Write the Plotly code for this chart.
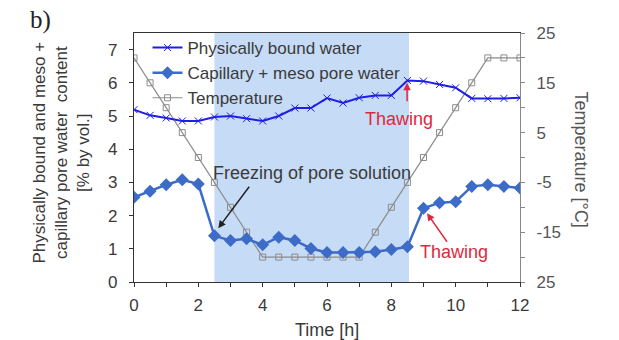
import plotly.graph_objects as go

time_h = [0, 0.5, 1, 1.5, 2, 2.5, 3, 3.5, 4, 4.5, 5, 5.5, 6, 6.5, 7, 7.5, 8, 8.5, 9, 9.5, 10, 10.5, 11, 11.5, 12]
phys_bound = [5.19, 5.02, 4.94, 4.85, 4.85, 4.97, 5.00, 4.92, 4.85, 5.00, 5.24, 5.24, 5.54, 5.39, 5.55, 5.62, 5.62, 6.07, 6.05, 5.95, 5.85, 5.53, 5.52, 5.53, 5.55]
capillary = [2.55, 2.73, 2.93, 3.08, 2.95, 1.39, 1.25, 1.30, 1.12, 1.35, 1.25, 1.01, 0.89, 0.89, 0.89, 0.91, 0.98, 1.06, 2.22, 2.39, 2.42, 2.88, 2.93, 2.88, 2.83]
temperature = [20, 15, 10, 5, 0, -5, -10, -15, -20, -20, -20, -20, -20, -20, -20, -15, -10, -5, 0, 5, 10, 15, 20, 20, 20]

freeze_start, freeze_end = 2.5, 8.55

x_ticks = list(range(0, 13))
x_ticktext = [str(v) if v % 2 == 0 else "" for v in x_ticks]
left_ticks = [0, 1, 2, 3, 4, 5, 6, 7]
right_ticks = [-25, -20, -15, -10, -5, 0, 5, 10, 15, 20, 25]
right_ticktext = ["25", "", "-15", "", "-5", "", "5", "", "15", "", "25"]

FONT = "Liberation Sans, Arial, sans-serif"
TXT = "#3a3a3a"
RED = "rgb(222,40,62)"

fig = go.Figure()
fig.add_trace(go.Scatter(x=time_h, y=phys_bound, name="Physically bound water", yaxis="y2",
                         mode="lines+markers",
                         line=dict(color="rgb(30,30,230)", width=2),
                         marker=dict(symbol="x-thin-open", size=7, line=dict(color="rgb(30,30,230)", width=1))))
fig.add_trace(go.Scatter(x=time_h, y=capillary, name="Capillary + meso pore water", yaxis="y2",
                         mode="lines+markers",
                         line=dict(color="rgb(60,108,200)", width=2.5),
                         marker=dict(symbol="diamond", size=10, color="rgb(60,108,200)")))
fig.add_trace(go.Scatter(x=time_h, y=temperature, name="Temperature", yaxis="y",
                         mode="lines+markers",
                         line=dict(color="rgb(140,140,140)", width=1.2),
                         marker=dict(symbol="square-open", size=6, color="rgb(140,140,140)",
                                     line=dict(width=1))))

fig.add_shape(type="rect", xref="x", yref="paper", x0=freeze_start, x1=freeze_end, y0=0, y1=1,
              fillcolor="rgb(198,219,245)", line=dict(width=0), layer="below")

annos = []
annos.append(dict(x=5.54, y=3.27, xref="x", yref="y2", text="Freezing of pore solution",
                  showarrow=False, font=dict(size=18, color=TXT, family=FONT)))
annos.append(dict(x=2.62, y=1.62, xref="x", yref="y2", text="", showarrow=True,
                  ax=32, ay=-43, arrowhead=2, arrowsize=1, arrowwidth=1.5, arrowcolor="#222"))
annos.append(dict(x=8.25, y=4.9, xref="x", yref="y2", text="Thawing",
                  showarrow=False, font=dict(size=18, color=RED, family=FONT)))
annos.append(dict(x=8.49, y=6.0, xref="x", yref="y2", text="", showarrow=True,
                  ax=0, ay=20, arrowhead=2, arrowsize=1, arrowwidth=1.5, arrowcolor=RED))
annos.append(dict(x=9.95, y=0.91, xref="x", yref="y2", text="Thawing",
                  showarrow=False, font=dict(size=18, color=RED, family=FONT)))
annos.append(dict(x=9.11, y=2.07, xref="x", yref="y2", text="", showarrow=True,
                  ax=21, ay=30, arrowhead=2, arrowsize=1, arrowwidth=1.5, arrowcolor=RED))
annos.append(dict(xref="paper", yref="paper", x=0, y=1, xshift=-94, yshift=13,
                  text="b)", showarrow=False, xanchor="center", yanchor="middle",
                  font=dict(size=25, color="#222", family="Liberation Serif, Times New Roman, serif")))
annos.append(dict(xref="paper", yref="paper", x=0, y=0.5, xshift=-73, yshift=5,
                  text="Physically bound and meso +<br>capillary pore water  content<br>[% by vol.]",
                  textangle=-90, showarrow=False, xanchor="center", yanchor="middle",
                  font=dict(size=17, color=TXT, family=FONT)))
annos.append(dict(xref="paper", yref="paper", x=1, y=0.5, xshift=61, yshift=-2,
                  text="Temperature [°C]", textangle=90, showarrow=False,
                  xanchor="center", yanchor="middle",
                  font=dict(size=18, color="#555", family=FONT)))
annos.append(dict(xref="paper", yref="paper", x=0.5, y=0, yshift=-48,
                  text="Time [h]", showarrow=False, xanchor="center", yanchor="middle",
                  font=dict(size=18, color=TXT, family=FONT)))

fig.update_layout(
    width=619, height=340,
    margin=dict(l=133.5, r=99, t=33, b=58),
    paper_bgcolor="white", plot_bgcolor="white",
    font=dict(family=FONT, size=17, color=TXT),
    showlegend=True,
    legend=dict(x=0.035, y=1.012, xanchor="left", yanchor="top", bgcolor="rgba(0,0,0,0)",
                font=dict(size=17, color=TXT, family=FONT), tracegroupgap=0),
    xaxis=dict(range=[0, 12], tickmode="array", tickvals=x_ticks, ticktext=x_ticktext,
               showgrid=False, zeroline=False, showline=True, linecolor="#333", linewidth=1.2,
               mirror=True, ticks="outside", ticklen=4, tickcolor="#333",
               tickfont=dict(size=17, color=TXT), ticklabelstandoff=3),
    yaxis=dict(range=[-25, 25], side="right", tickmode="array", tickvals=right_ticks,
               ticktext=right_ticktext, showgrid=False, zeroline=False,
               showline=True, linecolor="#888", linewidth=1.2, ticks="outside", ticklen=4,
               tickcolor="#888", tickfont=dict(size=17, color="#555"), ticklabelstandoff=8),
    yaxis2=dict(range=[0, 7.5], side="left", overlaying="y", tickmode="array", tickvals=left_ticks,
                showgrid=False, zeroline=False, showline=True, linecolor="#333", linewidth=1.2,
                ticks="outside", ticklen=4, tickcolor="#333",
                tickfont=dict(size=17, color=TXT), ticklabelstandoff=8),
    annotations=annos,
)

fig.write_html("out.html")
